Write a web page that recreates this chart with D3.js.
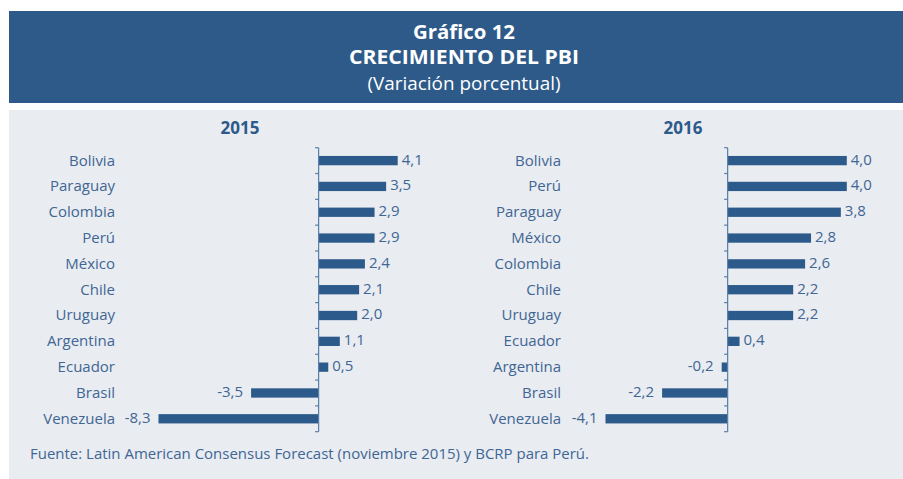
<!DOCTYPE html>
<html>
<head>
<meta charset="utf-8">
<script src="https://cdn.jsdelivr.net/npm/d3@7"></script>
<style>
  html, body { margin: 0; padding: 0; background: #ffffff; }
  svg { display: block; font-family: "Open Sans", "Noto Sans", sans-serif; }
</style>
</head>
<body>
<svg id="chart" width="903" height="479"></svg>
<script>
// ---- Data ----
const categories2015 = ["Bolivia", "Paraguay", "Colombia", "Perú", "México", "Chile", "Uruguay", "Argentina", "Ecuador", "Brasil", "Venezuela"];
const values2015 = [4.1, 3.5, 2.9, 2.9, 2.4, 2.1, 2.0, 1.1, 0.5, -3.5, -8.3];
const categories2016 = ["Bolivia", "Perú", "Paraguay", "México", "Colombia", "Chile", "Uruguay", "Ecuador", "Argentina", "Brasil", "Venezuela"];
const values2016 = [4.0, 4.0, 3.8, 2.8, 2.6, 2.2, 2.2, 0.4, -0.2, -2.2, -4.1];
const panelTitles = ["2015", "2016"];
const titleLines = ["Gráfico 12", "CRECIMIENTO DEL PBI", "(Variación porcentual)"];
const sourceNote = "Fuente: Latin American Consensus Forecast (noviembre 2015) y BCRP para Perú.";

// ---- Styles ----
const headerBlue = "#2d5a89";
const panelGrey = "#e9ecf1";
const barColor = "#2c5a8a";
const textColor = "#3f6694";
const axisColor = "#5a7ea9";
const fmt = v => d3.format(".1f")(v).replace("\u2212", "-").replace(".", ",");

const svg = d3.select("#chart");

// Header band
svg.append("rect").attr("x", 9).attr("y", 11).attr("width", 894).attr("height", 92).attr("fill", headerBlue);
// Grey panel
svg.append("rect").attr("x", 9).attr("y", 110).attr("width", 894).attr("height", 369).attr("fill", panelGrey);

const cx = 464;
svg.append("text").attr("x", cx).attr("y", 39).attr("text-anchor", "middle")
  .attr("fill", "#fff").attr("font-weight", 700).attr("font-size", 19.5)
  .attr("textLength", 102).attr("lengthAdjust", "spacingAndGlyphs").text(titleLines[0]);
svg.append("text").attr("x", cx).attr("y", 64).attr("text-anchor", "middle")
  .attr("fill", "#fff").attr("font-weight", 700).attr("font-size", 19.5)
  .attr("textLength", 230).attr("lengthAdjust", "spacingAndGlyphs").text(titleLines[1]);
svg.append("text").attr("x", cx).attr("y", 90).attr("text-anchor", "middle")
  .attr("fill", "#fff").attr("font-weight", 400).attr("font-size", 19)
  .attr("textLength", 193).attr("lengthAdjust", "spacingAndGlyphs").text(titleLines[2]);

// Panels
const panels = [
  { title: panelTitles[0], cats: categories2015, vals: values2015, titleX: 240, labelX: 115,
    domain: [d3.min(values2015), d3.max(values2015)], range: [158.5, 397.7] },
  { title: panelTitles[1], cats: categories2016, vals: values2016, titleX: 683, labelX: 561,
    domain: [d3.min(values2016), d3.max(values2016)], range: [605.5, 846.8] }
];

const yTop = 147.7, yBottom = 431.7;

panels.forEach(p => {
  const g = svg.append("g");
  const x = d3.scaleLinear().domain(p.domain).range(p.range);
  const y = d3.scaleBand().domain(p.cats).range([yTop, yBottom]).paddingInner(0.64).paddingOuter(0.32);
  const step = y.step();
  const x0 = x(0);

  g.append("text").attr("x", p.titleX).attr("y", 134).attr("text-anchor", "middle")
    .attr("fill", barColor).attr("font-weight", 700).attr("font-size", 17).text(p.title);

  const data = p.cats.map((c, i) => ({ c, v: p.vals[i] }));

  // bars
  g.selectAll("rect.bar").data(data).enter().append("rect").attr("class", "bar")
    .attr("x", d => Math.min(x(d.v), x0))
    .attr("width", d => Math.abs(x(d.v) - x0))
    .attr("y", d => y(d.c))
    .attr("height", y.bandwidth())
    .attr("fill", barColor);

  // axis line and ticks
  g.append("line").attr("x1", x0).attr("x2", x0).attr("y1", yTop).attr("y2", yBottom)
    .attr("stroke", axisColor).attr("stroke-width", 1.2);
  g.selectAll("line.tick").data(d3.range(p.cats.length + 1)).enter().append("line").attr("class", "tick")
    .attr("x1", x0 - 3.5).attr("x2", x0).attr("y1", i => yTop + i * step).attr("y2", i => yTop + i * step)
    .attr("stroke", axisColor).attr("stroke-width", 1.2);

  // category labels
  g.selectAll("text.cat").data(data).enter().append("text").attr("class", "cat")
    .attr("x", p.labelX).attr("y", d => y(d.c) + y.bandwidth() / 2 - 0.5).attr("dy", "0.36em")
    .attr("text-anchor", "end").attr("fill", textColor).attr("font-size", 15).text(d => d.c);

  // value labels
  g.selectAll("text.val").data(data).enter().append("text").attr("class", "val")
    .attr("x", d => d.v >= 0 ? x(d.v) + 4 : x(d.v) - 8)
    .attr("y", d => y(d.c) + y.bandwidth() / 2 - 1.5).attr("dy", "0.36em")
    .attr("text-anchor", d => d.v >= 0 ? "start" : "end")
    .attr("fill", textColor).attr("font-size", 15).text(d => fmt(d.v));
});

// Source note
svg.append("text").attr("x", 30).attr("y", 459).attr("fill", textColor).attr("font-size", 14.5)
  .attr("textLength", 559).attr("lengthAdjust", "spacingAndGlyphs")
  .text(sourceNote);
</script>
</body>
</html>
